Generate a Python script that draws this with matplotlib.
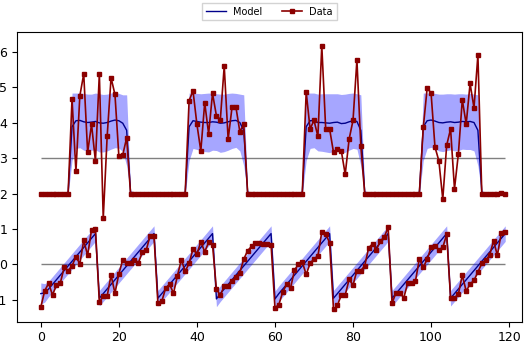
import numpy as np
import matplotlib
matplotlib.use("Agg")
from matplotlib import pyplot as plt

# time steps 0..119
t = np.arange(120)

# upper signal (square wave, baseline 2)
top_data = [2.0, 2.0, 1.99, 2.0, 2.0, 1.98, 2.0, 2.0,
            4.66, 2.62, 4.75, 5.37, 3.16, 3.95, 2.91, 5.37, 1.30, 3.61, 5.26, 4.79, 3.06, 3.09, 3.57,
            2.0, 2.0, 2.0, 1.99, 2.0, 2.0, 1.99, 2.0, 2.0, 1.99, 2.0, 2.0, 2.0, 2.0, 2.0,
            4.62, 4.89, 3.95, 3.20, 4.56, 3.68, 4.82, 4.19, 4.08, 5.59, 3.53, 4.43, 4.43, 3.74, 3.95,
            2.0, 2.0, 1.99, 2.0, 2.0, 2.0, 1.99, 2.0, 2.0, 2.0, 1.99, 2.0, 2.0, 2.0, 2.0,
            4.86, 3.82, 4.06, 3.61, 6.16, 3.82, 3.82, 3.16, 3.24, 3.20, 2.54, 3.53, 4.06, 5.76, 3.34,
            2.0, 2.0, 2.0, 2.0, 1.99, 2.0, 2.0, 2.0, 2.0, 2.0, 1.99, 2.0, 2.0, 2.0, 2.0,
            3.86, 4.97, 4.83, 3.31, 2.92, 1.84, 3.36, 3.82, 2.13, 3.12, 4.64, 3.96, 5.10, 4.41, 5.90,
            2.0, 1.99, 1.99, 2.0, 2.0, 2.01, 1.99]

top_model = [2.0, 2.0, 2.0, 2.0, 2.0, 2.0, 2.0, 2.03,
             3.88, 4.05, 4.06, 4.02, 4.0, 4.01, 4.03, 3.99, 3.98, 4.0, 4.04, 4.07, 4.05, 3.98, 3.78,
             2.03, 2.0, 2.0, 2.0, 2.0, 2.0, 2.0, 2.0, 2.0, 2.0, 2.0, 2.0, 2.0, 2.0, 2.03,
             3.88, 4.05, 4.03, 4.01, 4.0, 4.0, 4.02, 4.01, 3.98, 3.99, 4.02, 4.05, 4.06, 4.0, 3.78,
             2.03, 2.0, 2.0, 2.0, 2.0, 2.0, 2.0, 2.0, 2.0, 2.0, 2.0, 2.0, 2.0, 2.0, 2.03,
             3.88, 4.05, 4.06, 4.0, 4.0, 3.99, 3.98, 4.0, 4.01, 3.97, 3.98, 4.02, 4.05, 4.03, 3.78,
             2.03, 2.0, 2.0, 2.0, 2.0, 2.0, 2.0, 2.0, 2.0, 2.0, 2.0, 2.0, 2.0, 2.0, 2.03,
             3.88, 4.05, 4.07, 4.04, 4.0, 3.99, 4.01, 4.02, 4.0, 4.01, 4.03, 4.02, 4.03, 4.0, 3.78,
             2.03, 2.0, 2.0, 2.0, 2.0, 2.0, 2.0]

top_spread = [0.02, 0.02, 0.02, 0.02, 0.02, 0.02, 0.02, 0.06,
              0.95, 0.78, 0.77, 0.8, 0.8, 0.79, 0.8, 0.82, 0.81, 0.8, 0.79, 0.78, 0.77, 0.8, 1.0,
              0.06, 0.02, 0.02, 0.02, 0.02, 0.02, 0.02, 0.02, 0.02, 0.02, 0.02, 0.02, 0.02, 0.02, 0.06,
              0.95, 0.78, 0.79, 0.8, 0.82, 0.83, 0.8, 0.8, 0.82, 0.81, 0.8, 0.78, 0.76, 0.8, 1.0,
              0.06, 0.02, 0.02, 0.02, 0.02, 0.02, 0.02, 0.02, 0.02, 0.02, 0.02, 0.02, 0.02, 0.02, 0.06,
              0.95, 0.78, 0.77, 0.8, 0.81, 0.82, 0.83, 0.81, 0.8, 0.82, 0.82, 0.8, 0.78, 0.78, 1.0,
              0.06, 0.02, 0.02, 0.02, 0.02, 0.02, 0.02, 0.02, 0.02, 0.02, 0.02, 0.02, 0.02, 0.02, 0.06,
              0.95, 0.78, 0.77, 0.78, 0.8, 0.81, 0.8, 0.79, 0.8, 0.8, 0.78, 0.78, 0.79, 0.8, 1.0,
              0.06, 0.02, 0.02, 0.02, 0.02, 0.02, 0.02]

# lower signal (sawtooth)
bottom_data = [-1.20, -0.74, -0.53, -0.86, -0.58, -0.52, -0.08, -0.17, -0.04, 0.22, 0.02, 0.68, 0.26, 0.98, 1.01,
               -1.06, -0.89, -0.89, -0.30, -0.81, -0.26, 0.13, 0.05, 0.05, 0.14, 0.05, 0.34, 0.40, 0.81, 0.81,
               -1.09, -1.04, -0.66, -0.56, -0.81, -0.32, 0.13, -0.19, 0.03, 0.44, 0.29, 0.64, 0.36, 0.62, 0.56,
               -0.70, -0.86, -0.61, -0.60, -0.46, -0.34, -0.23, 0.15, 0.39, 0.51, 0.61, 0.61, 0.57, 0.57, 0.56,
               -1.22, -1.13, -0.77, -0.56, -0.66, -0.16, 0.0, 0.07, -0.28, 0.03, 0.16, 0.24, 0.92, 0.87, 0.61,
               -1.26, -1.15, -0.86, -0.86, -0.42, -0.58, -0.17, -0.17, -0.04, 0.47, 0.58, 0.42, 0.66, 0.77, 1.05,
               -1.09, -0.80, -0.80, -0.94, -0.53, -0.53, -0.47, 0.16, -0.08, 0.15, 0.48, 0.52, 0.42, 0.48, 0.85,
               -0.94, -0.94, -0.83, -0.30, -0.75, -0.55, -0.45, -0.21, 0.03, 0.13, 0.26, 0.66, 0.26, 0.90, 0.92]

bottom_model = [-0.82, -0.80, -0.69, -0.56, -0.43, -0.30, -0.17, -0.04, 0.09, 0.22, 0.35, 0.48, 0.61, 0.74, 0.87,
                -0.95, -0.82, -0.69, -0.56, -0.43, -0.30, -0.17, -0.04, 0.09, 0.22, 0.35, 0.48, 0.61, 0.74, 0.87,
                -0.95, -0.82, -0.69, -0.56, -0.43, -0.30, -0.17, -0.04, 0.09, 0.22, 0.35, 0.48, 0.61, 0.74, 0.87,
                -0.97, -0.82, -0.69, -0.56, -0.43, -0.30, -0.17, -0.04, 0.09, 0.22, 0.35, 0.48, 0.61, 0.74, 0.87,
                -0.97, -0.82, -0.69, -0.56, -0.43, -0.30, -0.17, -0.04, 0.09, 0.22, 0.35, 0.48, 0.61, 0.74, 0.87,
                -0.95, -0.82, -0.69, -0.56, -0.43, -0.30, -0.17, -0.04, 0.09, 0.22, 0.35, 0.48, 0.61, 0.74, 0.87,
                -0.95, -0.82, -0.69, -0.56, -0.43, -0.30, -0.17, -0.04, 0.09, 0.22, 0.35, 0.48, 0.61, 0.74, 0.87,
                -0.95, -0.82, -0.69, -0.56, -0.43, -0.30, -0.17, -0.04, 0.09, 0.22, 0.35, 0.48, 0.61, 0.74, 0.87]

bottom_spread = [0.3, 0.26] + [0.22] * 118

top_model = np.array(top_model)
top_spread = np.array(top_spread)
bottom_model = np.array(bottom_model)
bottom_spread = np.array(bottom_spread)

fig = plt.figure(figsize=(5.3, 3.42), dpi=100)
ax = fig.add_axes([17 / 530, 20 / 342, 505 / 530, 290 / 342])

ax.hlines([3, 0], t[0], t[-1], color="gray", linewidth=1, zorder=1)

ax.fill_between(t, top_model - top_spread, top_model + top_spread,
                color="blue", alpha=0.35, linewidth=0, zorder=2)
ax.fill_between(t, bottom_model - bottom_spread, bottom_model + bottom_spread,
                color="blue", alpha=0.35, linewidth=0, zorder=2)

ax.plot(t, top_model, color="darkblue", linewidth=1, zorder=3, label="Model")
ax.plot(t, bottom_model, color="darkblue", linewidth=1, zorder=3)

ax.plot(t, top_data, color="darkred", linewidth=1.2, marker="s", markersize=2.8,
        zorder=4, label="Data")
ax.plot(t, bottom_data, color="darkred", linewidth=1.2, marker="s", markersize=2.8,
        zorder=4)

ax.set_xlim(-6.1, 123.3)
ax.set_ylim(-1.62, 6.55)
ax.set_xticks([0, 20, 40, 60, 80, 100, 120])
ax.set_yticks([-1, 0, 1, 2, 3, 4, 5, 6])
ax.tick_params(labelsize=9)
ax.tick_params(axis="x", pad=3)

leg = ax.legend(loc="lower center", bbox_to_anchor=(0.5, 1.04), ncol=2,
                fontsize=7, fancybox=False, framealpha=1, edgecolor="lightgray",
                borderaxespad=0)

fig.savefig("out.png", dpi=100)
